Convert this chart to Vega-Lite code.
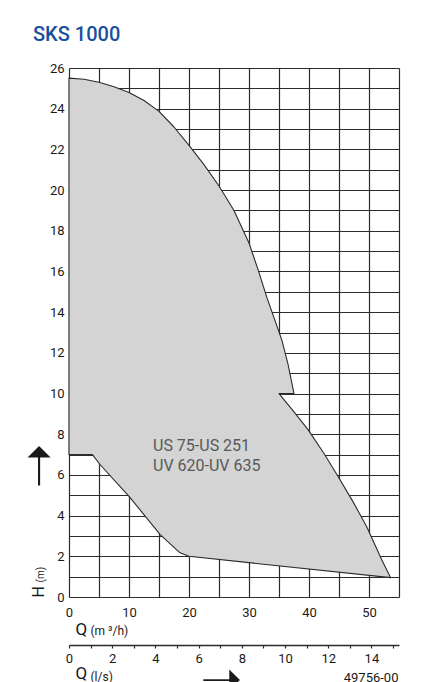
{
  "$schema": "https://vega.github.io/schema/vega-lite/v6.json",
  "width": 330,
  "height": 529,
  "autosize": {"type": "none"},
  "padding": {"left": 69, "top": 68, "right": 36, "bottom": 85},
  "background": "white",
  "title": {"text": "SKS 1000", "anchor": "start", "frame": "group", "dx": -36, "dy": -17, "offset": 0, "font": "Roboto", "fontSize": 20, "fontWeight": 500, "color": "#1a4f9c"},
  "config": {
    "view": {"stroke": null},
    "axis": {"labelFont": "Roboto", "labelFontSize": 13, "labelColor": "#1a1a1a", "titleFont": "Roboto", "titleColor": "#1a1a1a", "titleFontWeight": "normal"}
  },
  "resolve": {"scale": {"x": "independent", "y": "independent"}},
  "layer": [
    {
      "data": {"values": [
        {"i": 0, "Q": 0, "H": 25.5},
        {"i": 1, "Q": 2.5, "H": 25.45},
        {"i": 2, "Q": 5, "H": 25.3},
        {"i": 3, "Q": 7.5, "H": 25.08},
        {"i": 4, "Q": 10, "H": 24.8},
        {"i": 5, "Q": 12.5, "H": 24.4},
        {"i": 6, "Q": 15, "H": 23.87},
        {"i": 7, "Q": 17.5, "H": 23.1},
        {"i": 8, "Q": 20, "H": 22.2},
        {"i": 9, "Q": 22.5, "H": 21.25},
        {"i": 10, "Q": 25, "H": 20.2},
        {"i": 11, "Q": 27.5, "H": 19.0},
        {"i": 12, "Q": 30, "H": 17.4},
        {"i": 13, "Q": 31.5, "H": 16.1},
        {"i": 14, "Q": 33, "H": 14.7},
        {"i": 15, "Q": 34.5, "H": 13.45},
        {"i": 16, "Q": 35.5, "H": 12.6},
        {"i": 17, "Q": 36.5, "H": 11.45},
        {"i": 18, "Q": 37.5, "H": 10.0},
        {"i": 19, "Q": 35.0, "H": 10.0},
        {"i": 20, "Q": 37.5, "H": 9.1},
        {"i": 21, "Q": 39.9, "H": 8.2},
        {"i": 22, "Q": 42.5, "H": 7.05},
        {"i": 23, "Q": 44.9, "H": 5.9},
        {"i": 24, "Q": 47.3, "H": 4.7},
        {"i": 25, "Q": 49.6, "H": 3.47},
        {"i": 26, "Q": 52.1, "H": 1.84},
        {"i": 27, "Q": 53.6, "H": 0.95},
        {"i": 28, "Q": 20, "H": 2.0},
        {"i": 29, "Q": 18.5, "H": 2.17},
        {"i": 30, "Q": 15.2, "H": 3.07},
        {"i": 31, "Q": 10, "H": 4.95},
        {"i": 32, "Q": 5.2, "H": 6.5},
        {"i": 33, "Q": 3.9, "H": 7.0},
        {"i": 34, "Q": 0, "H": 7.0}
      ]},
      "mark": {"type": "line", "interpolate": "linear-closed", "fill": "#d4d4d4", "stroke": "#2b2b2b", "strokeWidth": 1.1, "strokeJoin": "round"},
      "encoding": {
        "order": {"field": "i", "type": "quantitative"},
        "x": {"field": "Q", "type": "quantitative",
          "scale": {"domain": [0, 55], "nice": false, "zero": false},
          "axis": {"orient": "bottom", "values": [0, 5, 10, 15, 20, 25, 30, 35, 40, 45, 50, 55], "labelExpr": "datum.value % 10 === 0 ? datum.label : ''", "grid": true, "gridColor": "#2b2b2b", "gridWidth": 1.2, "gridOpacity": 1, "domain": false, "ticks": false, "labelPadding": 9, "labelFlush": false, "title": "Q", "titleFontSize": 17, "titleX": 6, "titleY": 37, "titleAlign": "left", "titleBaseline": "alphabetic"}},
        "y": {"field": "H", "type": "quantitative",
          "scale": {"domain": [0, 26], "nice": false, "zero": false},
          "axis": {"orient": "left", "values": [0, 1, 2, 3, 4, 5, 6, 7, 8, 9, 10, 11, 12, 13, 14, 15, 16, 17, 18, 19, 20, 21, 22, 23, 24, 25, 26], "labelExpr": "datum.value % 2 === 0 ? datum.label : ''", "grid": true, "gridColor": "#2b2b2b", "gridWidth": 1.2, "gridOpacity": 1, "domain": false, "ticks": false, "labelPadding": 5, "title": "H", "titleFontSize": 16, "titleAngle": -90, "titleX": -26, "titleY": 529, "titleAlign": "left", "titleBaseline": "alphabetic"}}
      }
    },
    {
      "data": {"values": [
        {"Q": 14, "H": 7.19, "label": "US 75-US 251"},
        {"Q": 14, "H": 6.18, "label": "UV 620-UV 635"}
      ]},
      "mark": {"type": "text", "align": "left", "baseline": "alphabetic", "font": "Roboto", "fontSize": 16, "color": "#595959"},
      "encoding": {
        "x": {"field": "Q", "type": "quantitative", "scale": {"domain": [0, 55], "nice": false, "zero": false}, "axis": null},
        "y": {"field": "H", "type": "quantitative", "scale": {"domain": [0, 26], "nice": false, "zero": false}, "axis": null},
        "text": {"field": "label"}
      }
    },
    {
      "data": {"values": [{"v": 0}]},
      "mark": {"type": "point", "opacity": 0},
      "encoding": {
        "x": {"field": "v", "type": "quantitative",
          "scale": {"domain": [0, 15.2778], "nice": false, "zero": false},
          "axis": {"orient": "bottom", "offset": 48, "values": [0, 1, 2, 3, 4, 5, 6, 7, 8, 9, 10, 11, 12, 13, 14, 15], "labelExpr": "datum.value % 2 === 0 ? datum.label : ''", "grid": false, "domain": true, "domainColor": "#2b2b2b", "domainWidth": 1.3, "ticks": true, "tickColor": "#2b2b2b", "tickSize": 3, "tickWidth": 1.2, "labelPadding": 4, "labelFlush": false, "title": "Q", "titleFontSize": 17, "titleX": 6, "titleY": 33.5, "titleAlign": "left", "titleBaseline": "alphabetic"}},
        "y": {"field": "v", "type": "quantitative",
          "scale": {"domain": [0, 1]},
          "axis": {"orient": "left", "grid": false, "domain": false, "ticks": false, "labels": false, "title": "(m)", "titleFontSize": 10, "titleAngle": -90, "titleX": -26, "titleY": 514, "titleAlign": "left", "titleBaseline": "alphabetic"}}
      }
    },
    {
      "data": {"values": [{"v": 0}]},
      "mark": {"type": "point", "opacity": 0},
      "encoding": {
        "x": {"field": "v", "type": "quantitative",
          "scale": {"domain": [0, 1]},
          "axis": {"orient": "bottom", "grid": false, "domain": false, "ticks": false, "labels": false, "title": "(m ³/h)", "titleFontSize": 12, "titleX": 21, "titleY": 37, "titleAlign": "left", "titleBaseline": "alphabetic"}},
        "y": {"field": "v", "type": "quantitative",
          "scale": {"domain": [0, 1]},
          "axis": {"orient": "left", "grid": false, "domain": false, "ticks": false, "labels": false, "title": "➝", "titleFont": "DejaVu Sans", "titleFontSize": 54, "titleAngle": -90, "titleX": -30, "titleY": 420, "titleAlign": "left", "titleBaseline": "middle"}}
      }
    },
    {
      "data": {"values": [{"v": 0}]},
      "mark": {"type": "point", "opacity": 0},
      "encoding": {
        "x": {"field": "v", "type": "quantitative",
          "scale": {"domain": [0, 1]},
          "axis": {"orient": "bottom", "grid": false, "domain": false, "ticks": false, "labels": false, "title": "(l/s)", "titleFontSize": 12, "titleX": 21, "titleY": 83, "titleAlign": "left", "titleBaseline": "alphabetic"}},
        "y": {"field": "v", "type": "quantitative",
          "scale": {"domain": [0, 1]},
          "axis": {"orient": "left", "grid": false, "domain": false, "ticks": false, "labels": false, "title": "➝", "titleFont": "DejaVu Sans", "titleFontSize": 50, "titleAngle": 0, "titleX": 131, "titleY": 612, "titleAlign": "left", "titleBaseline": "middle"}}
      }
    },
    {
      "data": {"values": [{"v": 0}]},
      "mark": {"type": "point", "opacity": 0},
      "encoding": {
        "x": {"field": "v", "type": "quantitative",
          "scale": {"domain": [0, 1]},
          "axis": {"orient": "bottom", "grid": false, "domain": false, "ticks": false, "labels": false, "title": "49756-00", "titleFontSize": 13, "titleX": 329, "titleY": 84, "titleAlign": "right", "titleBaseline": "alphabetic"}}
      }
    }
  ]
}
